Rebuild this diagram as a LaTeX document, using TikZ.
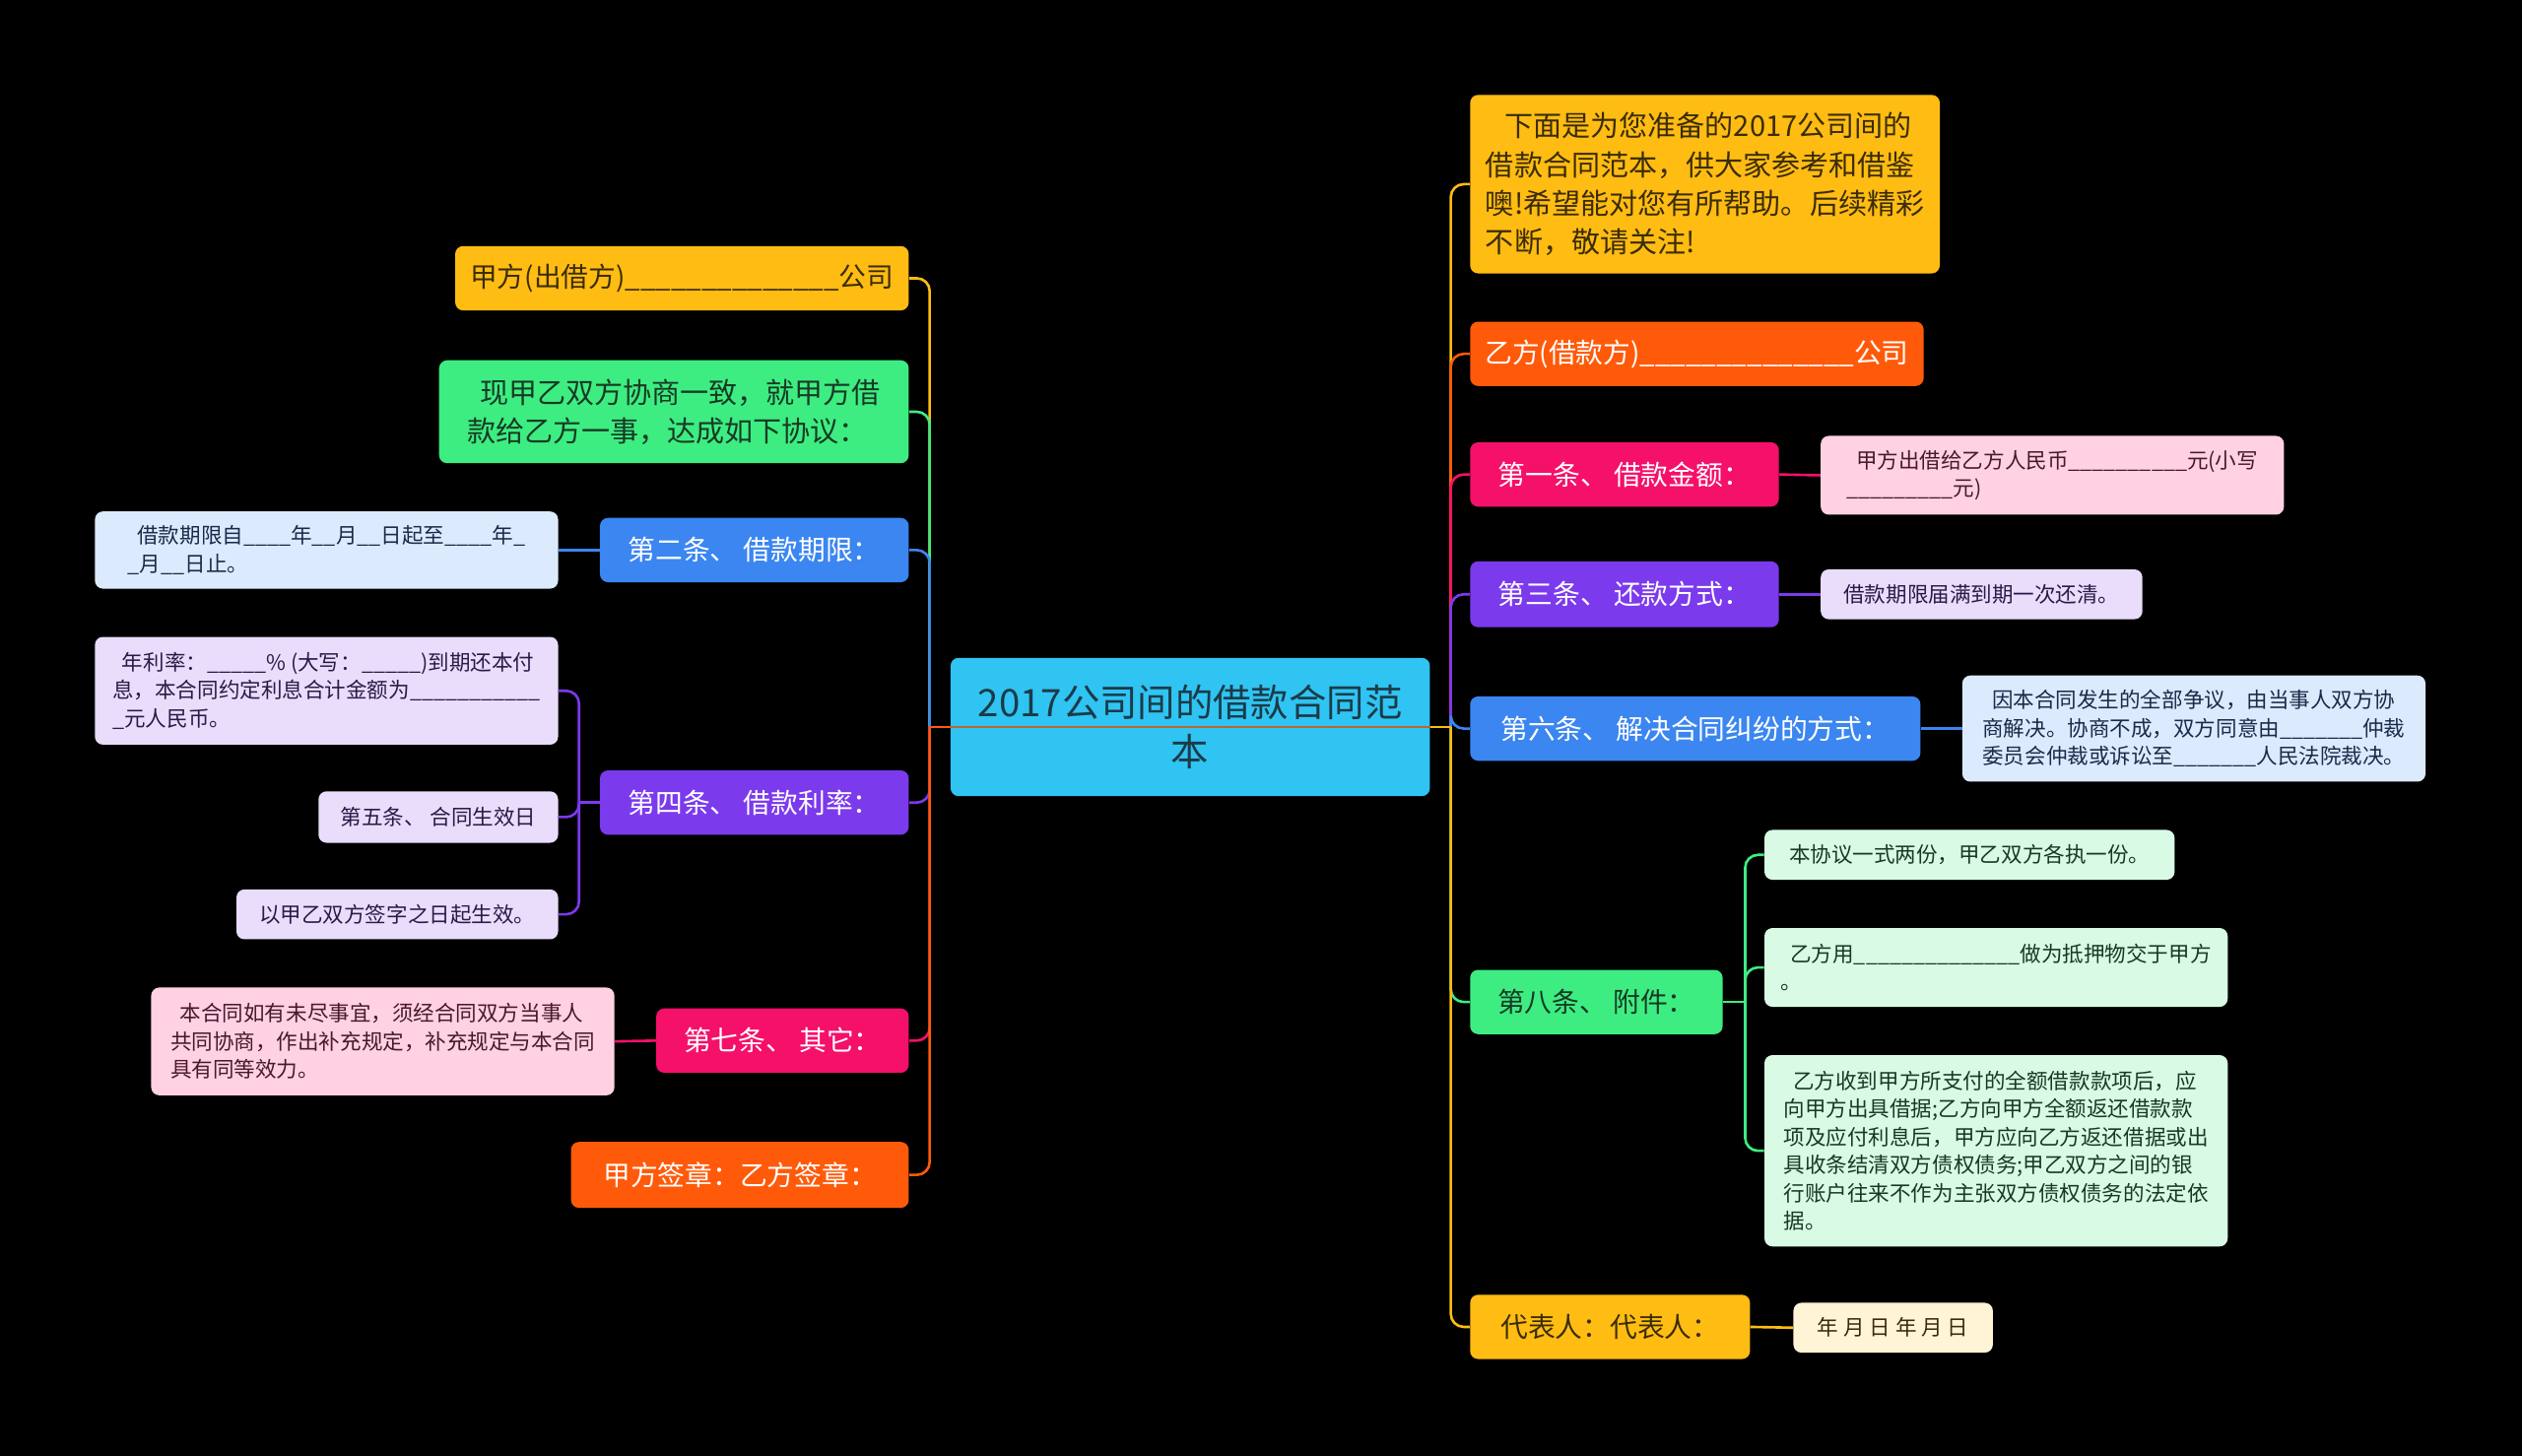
\documentclass[tikz,border=0pt]{standalone}
\usepackage{fontspec}
\setmainfont{Noto Sans CJK SC}
\definecolor{amber}{HTML}{FFBC13}
\definecolor{grn}{HTML}{3DED82}
\definecolor{blu}{HTML}{3B86F0}
\definecolor{pur}{HTML}{7C3AED}
\definecolor{pnk}{HTML}{F5106A}
\definecolor{org}{HTML}{FF5A0A}
\definecolor{ctr}{HTML}{2FC4F2}
\definecolor{lblu}{HTML}{DCEAFE}
\definecolor{lpur}{HTML}{E9DDFB}
\definecolor{lpnk}{HTML}{FFD1E3}
\definecolor{lgrn}{HTML}{D9FBE6}
\definecolor{lyel}{HTML}{FFF4D6}
\definecolor{brn}{HTML}{B9652E}
\definecolor{dk}{HTML}{3A2C06}
\definecolor{dkg}{HTML}{173A24}
\definecolor{dkc}{HTML}{1B3A48}
\definecolor{dkb}{HTML}{1A2A48}
\definecolor{dkp}{HTML}{2A1A48}
\definecolor{dkr}{HTML}{48182C}
\begin{document}
\begin{tikzpicture}[x=1pt,y=-1pt,
  box/.style={rectangle, rounded corners=5pt, inner sep=0pt, align=left},
  lvtwo/.style={box, font=\fontsize{17}{22}\selectfont},
  lvtwom/.style={box, font=\fontsize{17.8}{24}\selectfont},
  leaf/.style={box, font=\fontsize{13.2}{17.5}\selectfont},
  conn/.style={line width=1.6pt},
  elbow/.style={conn, rounded corners=8pt}]
\fill[black] (0,0) rectangle (1568,905);
\useasboundingbox (0,0) rectangle (1568,905);

% center
\node[box, fill=ctr, text=dkc, align=center, minimum width=298, minimum height=86,
  font=\fontsize{23.5}{31}\selectfont] (c) at (740,452) {2017公司间的借款合同范\\本};
\coordinate (ls) at (578,452);
\coordinate (rs) at (902,452);

% left level two
\node[lvtwo, fill=amber, text=dk, minimum width=282, minimum height=40] (L1) at (424,173)
  {甲方(出借方)\_\_\_\_\_\_\_\_\_\_\_\_\_\_公司};
\node[lvtwom, fill=grn, text=dkg, minimum width=292, minimum height=64] (L2) at (419,256)
  {\ \ 现甲乙双方协商一致，就甲方借\\款给乙方一事，达成如下协议：};
\node[lvtwo, fill=blu, text=white, minimum width=192, minimum height=40] (L3) at (469,342) {第二条、 借款期限：};
\node[lvtwo, fill=pur, text=white, minimum width=192, minimum height=40] (L4) at (469,499) {第四条、 借款利率：};
\node[lvtwo, fill=pnk, text=white, minimum width=157, minimum height=40] (L5) at (486.5,647) {第七条、 其它：};
\node[lvtwo, fill=org, text=white, minimum width=210, minimum height=41] (L6) at (460,730.5) {甲方签章：乙方签章：};

% left leaves
\node[leaf, fill=lblu, text=dkb, minimum width=288, minimum height=48] (L3c) at (203,342)
  {\ \ 借款期限自\_\_\_\_年\_\_月\_\_日起至\_\_\_\_年\_\\\_月\_\_日止。};
\node[leaf, fill=lpur, text=dkp, minimum width=288, minimum height=67] (L4a) at (203,429.5)
  {\ \ 年利率：\_\_\_\_\_\% (大写：\_\_\_\_\_)到期还本付\\息，本合同约定利息合计金额为\_\_\_\_\_\_\_\_\_\_\_\\\_元人民币。};
\node[leaf, fill=lpur, text=dkp, minimum width=149, minimum height=32] (L4b) at (272.5,508) {第五条、 合同生效日};
\node[leaf, fill=lpur, text=dkp, minimum width=200, minimum height=31] (L4c) at (247,568.5) {以甲乙双方签字之日起生效。};
\node[leaf, fill=lpnk, text=dkr, minimum width=288, minimum height=67] (L5c) at (238,647.5)
  {\ \ 本合同如有未尽事宜，须经合同双方当事人\\共同协商，作出补充规定，补充规定与本合同\\具有同等效力。};

% right level two
\node[lvtwom, fill=amber, text=dk, minimum width=292, minimum height=111] (R1) at (1060,114.5)
  {\ \ \ 下面是为您准备的2017公司间的\\借款合同范本，供大家参考和借鉴\\噢!希望能对您有所帮助。后续精彩\\不断，敬请关注!};
\node[lvtwo, fill=org, text=white, minimum width=282, minimum height=40] (R2) at (1055,220)
  {乙方(借款方)\_\_\_\_\_\_\_\_\_\_\_\_\_\_公司};
\node[lvtwo, fill=pnk, text=white, minimum width=192, minimum height=40] (R3) at (1010,295) {第一条、 借款金额：};
\node[lvtwo, fill=pur, text=white, minimum width=192, minimum height=41] (R4) at (1010,369.5) {第三条、 还款方式：};
\node[lvtwo, fill=blu, text=white, minimum width=280, minimum height=40] (R5) at (1054,453) {第六条、 解决合同纠纷的方式：};
\node[lvtwo, fill=grn, text=dkg, minimum width=157, minimum height=40] (R6) at (992.5,623) {第八条、 附件：};
\node[lvtwo, fill=amber, text=dk, minimum width=174, minimum height=40] (R7) at (1001,825) {代表人：代表人：};

% right leaves
\node[leaf, fill=lpnk, text=dkr, minimum width=288, minimum height=49] (R3c) at (1276,295.5)
  {\ \ 甲方出借给乙方人民币\_\_\_\_\_\_\_\_\_\_元(小写\\\_\_\_\_\_\_\_\_\_元)};
\node[leaf, fill=lpur, text=dkp, minimum width=200, minimum height=31] (R4c) at (1232,369.5) {借款期限届满到期一次还清。};
\node[leaf, fill=lblu, text=dkb, minimum width=288, minimum height=66] (R5c) at (1364,453)
  {\ \ 因本合同发生的全部争议，由当事人双方协\\商解决。协商不成，双方同意由\_\_\_\_\_\_\_仲裁\\委员会仲裁或诉讼至\_\_\_\_\_\_\_人民法院裁决。};
\node[leaf, fill=lgrn, text=dkg, minimum width=255, minimum height=31] (R6a) at (1224.5,531.5) {本协议一式两份，甲乙双方各执一份。};
\node[leaf, fill=lgrn, text=dkg, minimum width=288, minimum height=49] (R6b) at (1241,601.5)
  {\ \ 乙方用\_\_\_\_\_\_\_\_\_\_\_\_\_\_做为抵押物交于甲方\\。};
\node[leaf, fill=lgrn, text=dkg, minimum width=288, minimum height=119] (R6c) at (1241,715.5)
  {\ \ 乙方收到甲方所支付的全额借款款项后，应\\向甲方出具借据;乙方向甲方全额返还借款款\\项及应付利息后，甲方应向乙方返还借据或出\\具收条结清双方债权债务;甲乙双方之间的银\\行账户往来不作为主张双方债权债务的法定依\\据。};
\node[leaf, fill=lyel, text=dk, minimum width=124, minimum height=31] (R7c) at (1177,825.5) {年 月 日 年 月 日};

% left branches
\foreach \n/\col in {L1/amber,L2/grn,L3/blu,L4/pur,L5/pnk,L6/org}{
  \draw[conn, \col] (c.center) -- (ls);
  \draw[elbow, \col] (ls) |- (\n.east);
}
% right branches
\foreach \n/\col in {R1/amber,R2/org,R3/pnk,R4/pur,R5/blu,R6/grn,R7/amber}{
  \draw[conn, \col] (c.center) -- (rs);
  \draw[elbow, \col] (rs) |- (\n.west);
}
\draw[conn, brn] (c.west) -- (c.east);

% leaf connectors
\draw[conn, blu] (L3.west) -- (L3c.east);
\coordinate (l4s) at (360,499);
\draw[conn, pur] (L4.west) -- (l4s);
\foreach \n in {L4a,L4b,L4c}{\draw[elbow, pur] (l4s) |- (\n.east);}
\draw[conn, pnk] (L5.west) -- (L5c.east);
\draw[conn, pnk] (R3.east) -- (R3c.west);
\draw[conn, pur] (R4.east) -- (R4c.west);
\draw[conn, blu] (R5.east) -- (R5c.west);
\coordinate (r6s) at (1085,623);
\draw[conn, grn] (R6.east) -- (r6s);
\foreach \n in {R6a,R6b,R6c}{\draw[elbow, grn] (r6s) |- (\n.west);}
\draw[conn, amber] (R7.east) -- (R7c.west);
\end{tikzpicture}
\end{document}
